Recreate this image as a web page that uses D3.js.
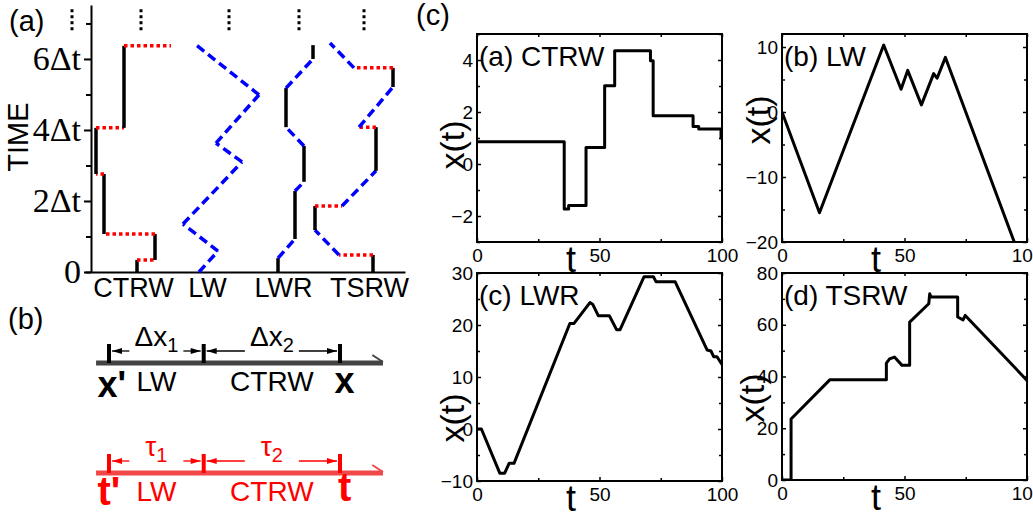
<!DOCTYPE html>
<html>
<head>
<meta charset="utf-8">
<script src="https://cdn.jsdelivr.net/npm/d3@7"></script>
<style>
  body { margin: 0; background: #fff; }
  svg { display: block; }
</style>
</head>
<body>
<div id="chart"></div>
<script>
// figure size
const width = 1033;
const height = 515;
const SANS = "'Liberation Sans', Arial, sans-serif";
const SERIF = "'Liberation Serif', 'Times New Roman', serif";

// ---- panel (a): sketch trajectories, position (arb. units) vs time (units of Δt)
const ctrwX = [4.6, 4.6, 6.4, 6.4, 1.3, 1.3, 0.5, 0.5, 3.3, 3.3, 8.0];
const ctrwT = [0, 0.34, 0.34, 1.07, 1.07, 2.76, 2.76, 4.06, 4.06, 6.37, 6.37];
const lwX = [10.8, 12.7, 9.2, 15.1, 12.5, 16.8, 10.4];
const lwT = [0, 0.59, 1.35, 3.1, 3.63, 4.99, 6.42];
const lwrX = [18.7, 18.7, 20.4, 20.4, 21.3, 21.3, 19.5, 19.5, 22.2, 22.2];
const lwrT = [0, 0.39, 0.93, 2.28, 2.54, 3.55, 4.08, 5.18, 6.0, 6.39];
const tsrwX = [28.2, 28.2, 24.8, 22.4, 22.4, 25.1, 28.5, 28.5, 26.8, 30.2, 30.2, 26.3, 23.9];
const tsrwT = [0, 0.48, 0.48, 1.18, 1.86, 1.86, 2.85, 4.08, 4.08, 5.21, 5.75, 5.75, 6.45];
const walkNames = ["CTRW", "LW", "LWR", "TSRW"];
const walkLabelPos = [4.2, 11.6, 19.2, 27.8];
const ellipsisPos = [-1.9, 5.0, 13.8, 20.8, 27.3];
const timeMajor = [0, 2, 4, 6];
const timeMinor = [1, 3, 5, 7];

// ---- panel (b): segment boundaries (fraction of x' -> x)
const bMarks = [0, 0.41, 1];
const bSteps = ["LW", "CTRW"];

// ---- panel (c): simulated x(t)
const cCtrwT = [0, 35.6, 35.6, 37.4, 37.4, 44.5, 44.5, 52.1, 52.1, 56.2, 56.2, 70.8, 70.8, 71.9, 71.9, 88.2, 88.2, 90.5, 90.5, 99.6, 99.6, 100];
const cCtrwX = [0.86, 0.86, -1.73, -1.73, -1.6, -1.6, 0.63, 0.63, 3.01, 3.01, 4.36, 4.36, 3.97, 3.97, 1.86, 1.86, 1.44, 1.44, 1.35, 1.35, 1.0, 1.0];
const cLwT = [0, 15.3, 41.5, 48.6, 51.3, 56.9, 61.9, 63.3, 66.7, 94.8];
const cLwX = [0, -15.5, 10.3, 3.5, 6.4, 1.1, 5.9, 5.2, 8.4, -20];
const cLwrT = [0, 1.8, 9.3, 11.3, 13.1, 15.1, 37.9, 39.6, 46.1, 47.2, 49.5, 54, 57, 58.4, 68.2, 72, 73.1, 80.9, 93.9, 95.5, 96.6, 97.95, 100];
const cLwrX = [0, 0, -8.5, -8.5, -6.6, -6.6, 20.3, 20.3, 24.3, 24.0, 21.8, 21.8, 19.1, 19.1, 29.3, 29.3, 28.3, 28.3, 15.2, 15, 13.9, 13.9, 12.4];
const cTsrwT = [0, 3.7, 3.7, 19.5, 42.6, 42.6, 43.9, 45.9, 49, 52.1, 52.1, 59.9, 60.3, 60.8, 71.7, 71.7, 73.9, 74.8, 100];
const cTsrwX = [0, 0, 23.6, 38.7, 38.7, 45.2, 46.8, 47.5, 44.3, 44.3, 61, 68.1, 72, 70.7, 70.7, 63, 61.9, 63.6, 38.5];
const tTicks = [0, 50, 100];
const tMinor = [25, 75];

const svg = d3.select("#chart").append("svg")
  .attr("width", width)
  .attr("height", height)
  .attr("viewBox", [0, 0, width, height]);
svg.append("rect").attr("width", width).attr("height", height).attr("fill", "#fff");

/* ===================== panel (a) ===================== */
const xA = d3.scaleLinear().domain([-0.6, 31.4]).range([85, 405]);
const yA = d3.scaleLinear().domain([0, 7.52]).range([272, 5]);

// y axis (time)
svg.append("g")
  .attr("transform", `translate(${xA(0)},0)`)
  .call(d3.axisLeft(yA).tickValues(timeMajor).tickSize(7).tickSizeOuter(0).tickPadding(3)
    .tickFormat(d => d === 0 ? "0" : d + "Δt"))
  .call(g => g.selectAll("text").attr("font-family", SERIF).attr("font-size", 34).attr("fill", "#000"))
  .call(g => g.selectAll("line, path").attr("stroke", "#000").attr("stroke-width", 2));
svg.append("g")
  .attr("transform", `translate(${xA(0)},0)`)
  .call(d3.axisLeft(yA).tickValues(timeMinor).tickSize(5).tickFormat(""))
  .call(g => g.select(".domain").remove())
  .call(g => g.selectAll("line").attr("stroke", "#000").attr("stroke-width", 2));

// bottom axis with walk names
svg.append("g")
  .attr("transform", `translate(0,${yA(0)})`)
  .call(d3.axisBottom(xA).tickValues(walkLabelPos).tickSize(0).tickSizeOuter(0).tickPadding(6)
    .tickFormat((d, i) => walkNames[i]))
  .call(g => g.selectAll("text").attr("font-family", SANS).attr("font-size", 27).attr("fill", "#000"))
  .call(g => g.select(".domain").attr("stroke", "#000").attr("stroke-width", 2));

svg.append("text")
  .attr("transform", `translate(28,${yA(3.8)}) rotate(-90)`)
  .attr("text-anchor", "middle")
  .attr("font-family", SANS).attr("font-size", 29)
  .text("TIME");
svg.append("text").attr("x", 9).attr("y", 31)
  .attr("font-family", SANS).attr("font-size", 29).text("(a)");

// vertical ellipses at the top
svg.selectAll(".ell").data(ellipsisPos).enter().append("line")
  .attr("class", "ell")
  .attr("x1", d => xA(d)).attr("x2", d => xA(d))
  .attr("y1", yA(7.4)).attr("y2", yA(6.8))
  .attr("stroke", "#000").attr("stroke-width", 3)
  .attr("stroke-dasharray", "3,3");

// a segment is solid if vertical (waiting), dotted red if horizontal (jump), dashed blue otherwise (flight)
function drawWalk(xs, ts) {
  for (let i = 0; i < xs.length - 1; i++) {
    let kind = xs[i] === xs[i + 1] ? "wait" : (ts[i] === ts[i + 1] ? "jump" : "fly");
    const seg = svg.append("line")
      .attr("x1", xA(xs[i])).attr("y1", yA(ts[i]))
      .attr("x2", xA(xs[i + 1])).attr("y2", yA(ts[i + 1]))
      .attr("stroke-width", 3.5);
    if (kind === "wait") seg.attr("stroke", "#000");
    else if (kind === "jump") seg.attr("stroke", "#ff0000").attr("stroke-dasharray", "3.5,3");
    else seg.attr("stroke", "#0000ff").attr("stroke-dasharray", "9,5");
  }
}
drawWalk(ctrwX, ctrwT);
drawWalk(lwX, lwT);
drawWalk(lwrX, lwrT);
drawWalk(tsrwX, tsrwT);

/* ===================== panel (b) ===================== */
const xB = d3.scaleLinear().domain([0, 1]).range([109, 340]);
svg.append("text").attr("x", 8).attr("y", 329)
  .attr("font-family", SANS).attr("font-size", 29).text("(b)");

function drawRuler(y, color, lineColor, deltaSym, startLbl, endLbl, lblSize, lblY) {
  const g = svg.append("g");
  g.append("line").attr("x1", xB(-0.056)).attr("x2", xB(1.186))
    .attr("y1", y).attr("y2", y).attr("stroke", lineColor).attr("stroke-width", 5);
  g.append("line").attr("x1", xB(1.14)).attr("x2", xB(1.186))
    .attr("y1", y - 8).attr("y2", y - 1).attr("stroke", lineColor).attr("stroke-width", 2);
  g.selectAll(".mk").data(bMarks).enter().append("line")
    .attr("x1", d => xB(d)).attr("x2", d => xB(d))
    .attr("y1", y - 19).attr("y2", y)
    .attr("stroke", color).attr("stroke-width", 4);
  const ay = y - 12;
  for (let i = 0; i < bSteps.length; i++) {
    const a = xB(bMarks[i]), b = xB(bMarks[i + 1]), m = (a + b) / 2;
    const half = 27;
    // left arrow
    g.append("line").attr("x1", a + 3).attr("x2", m - half).attr("y1", ay).attr("y2", ay)
      .attr("stroke", color).attr("stroke-width", 1.3);
    g.append("path").attr("d", `M${a + 3},${ay} l10,-3 v6 z`).attr("fill", color);
    // right arrow
    g.append("line").attr("x1", m + half).attr("x2", b - 3).attr("y1", ay).attr("y2", ay)
      .attr("stroke", color).attr("stroke-width", 1.3);
    g.append("path").attr("d", `M${b - 3},${ay} l-10,-3 v6 z`).attr("fill", color);
    const t = g.append("text").attr("x", m).attr("y", y - 17).attr("text-anchor", "middle")
      .attr("font-family", SANS).attr("font-size", 28).attr("fill", color);
    t.append("tspan").text(deltaSym);
    t.append("tspan").attr("font-size", 20).attr("dy", 6).text(i + 1);
    g.append("text").attr("x", m).attr("y", y + 28).attr("text-anchor", "middle")
      .attr("font-family", SANS).attr("font-size", 28).attr("fill", color).text(bSteps[i]);
  }
  g.append("text").attr("x", xB(-0.05)).attr("y", lblY).attr("text-anchor", "start")
    .attr("font-family", SANS).attr("font-weight", "bold").attr("font-size", lblSize)
    .attr("fill", color).text(startLbl);
  g.append("text").attr("x", xB(1.02)).attr("y", lblY - 4).attr("text-anchor", "middle")
    .attr("font-family", SANS).attr("font-weight", "bold").attr("font-size", lblSize)
    .attr("fill", color).text(endLbl);
}
drawRuler(363, "#000", "#444", "Δx", "x'", "x", 36, 397);
drawRuler(473, "#ff0000", "#f04848", "τ", "t'", "t", 40, 505);

/* ===================== panel (c) ===================== */
svg.append("text").attr("x", 416).attr("y", 25)
  .attr("font-family", SANS).attr("font-size", 29).text("(c)");

const panels = [
  {title: "(a) CTRW", t: cCtrwT, v: cCtrwX, dom: [-3, 5], major: [-2, 0, 2, 4], minor: [-3, -1, 1, 3, 5],
   x0: 477, x1: 722, y0: 34, y1: 242, labY: 145, labX: 452},
  {title: "(b) LW", t: cLwT, v: cLwX, dom: [-20, 12], major: [-20, -10, 0, 10], minor: [-15, -5, 5],
   x0: 782, x1: 1027, y0: 34, y1: 242, labY: 120, labX: 758},
  {title: "(c) LWR", t: cLwrT, v: cLwrX, dom: [-10, 30], major: [-10, 0, 10, 20, 30], minor: [-5, 5, 15, 25],
   x0: 477, x1: 722, y0: 273, y1: 481, labY: 418, labX: 452},
  {title: "(d) TSRW", t: cTsrwT, v: cTsrwX, dom: [0, 80], major: [0, 20, 40, 60, 80], minor: [10, 30, 50, 70],
   x0: 782, x1: 1027, y0: 273, y1: 480, labY: 398, labX: 752}
];

panels.forEach((p, k) => {
  const x = d3.scaleLinear().domain([0, 100]).range([p.x0, p.x1]);
  const y = d3.scaleLinear().domain(p.dom).range([p.y1, p.y0]);
  const g = svg.append("g");

  const style = sel => {
    sel.select(".domain").remove();
    sel.selectAll("line").attr("stroke", "#000").attr("stroke-width", 1.5);
    sel.selectAll("text").attr("font-family", SANS).attr("font-size", 19).attr("fill", "#000");
  };
  g.append("g").attr("transform", `translate(${p.x0},0)`)
    .call(d3.axisLeft(y).tickValues(p.major).tickSize(-4).tickPadding(4)).call(style);
  g.append("g").attr("transform", `translate(${p.x0},0)`)
    .call(d3.axisLeft(y).tickValues(p.minor).tickSize(-3).tickFormat("")).call(style);
  g.append("g").attr("transform", `translate(${p.x1},0)`)
    .call(d3.axisRight(y).tickValues(p.major).tickSize(-4).tickFormat("")).call(style);
  g.append("g").attr("transform", `translate(${p.x1},0)`)
    .call(d3.axisRight(y).tickValues(p.minor).tickSize(-3).tickFormat("")).call(style);
  g.append("g").attr("transform", `translate(0,${p.y1})`)
    .call(d3.axisBottom(x).tickValues(tTicks).tickSize(-4).tickPadding(7)).call(style);
  g.append("g").attr("transform", `translate(0,${p.y1})`)
    .call(d3.axisBottom(x).tickValues(tMinor).tickSize(-3).tickFormat("")).call(style);
  g.append("g").attr("transform", `translate(0,${p.y0})`)
    .call(d3.axisTop(x).tickValues(tTicks.concat(tMinor)).tickSize(-3).tickFormat("")).call(style);

  const clipId = "clip" + k;
  g.append("clipPath").attr("id", clipId).append("rect")
    .attr("x", p.x0).attr("y", p.y0).attr("width", p.x1 - p.x0).attr("height", p.y1 - p.y0);
  const line = d3.line().x((d, i) => x(p.t[i])).y(d => y(d));
  g.append("path").datum(p.v)
    .attr("clip-path", `url(#${clipId})`)
    .attr("d", line)
    .attr("fill", "none").attr("stroke", "#000").attr("stroke-width", 3)
    .attr("stroke-linejoin", "round");

  g.append("rect").attr("x", p.x0).attr("y", p.y0)
    .attr("width", p.x1 - p.x0).attr("height", p.y1 - p.y0)
    .attr("fill", "none").attr("stroke", "#000").attr("stroke-width", 2);

  g.append("text").attr("x", p.x0 + 2).attr("y", p.y0 + 32)
    .attr("font-family", SANS).attr("font-size", 28).text(p.title);
  g.append("text").attr("x", p.x0 + 94).attr("y", p.y1 + 30)
    .attr("text-anchor", "middle")
    .attr("font-family", SANS).attr("font-size", 36).text("t");
  g.append("text")
    .attr("transform", `translate(${p.labX},${p.labY}) rotate(-90)`)
    .attr("text-anchor", "middle").attr("dy", "0.35em")
    .attr("font-family", SANS).attr("font-size", 34).text("x(t)");
});
</script>
</body>
</html>
